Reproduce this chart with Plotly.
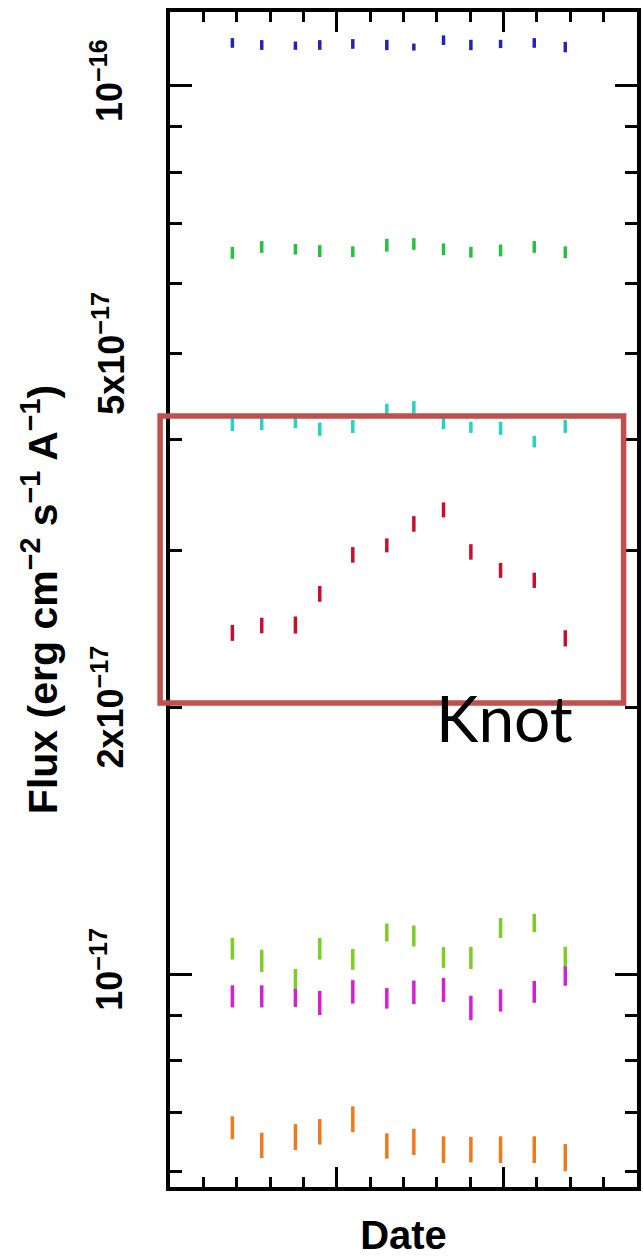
import math
import plotly.graph_objects as go

# Observation epochs (arbitrary date units along the x axis)
date = [1.87, 2.75, 3.76, 4.49, 5.48, 6.50, 7.31, 8.20, 9.02, 9.91, 10.92, 11.85]

# Fluxes (erg cm^-2 s^-1 A^-1) and 1-sigma uncertainties for each component
flux_blue = [1.118e-16, 1.112e-16, 1.110e-16, 1.112e-16, 1.115e-16, 1.112e-16,
             1.106e-16, 1.126e-16, 1.112e-16, 1.115e-16, 1.118e-16, 1.106e-16]
err_blue = [1.4e-18, 1.4e-18, 1.2e-18, 1.4e-18, 1.4e-18, 1.5e-18,
            1.0e-18, 1.4e-18, 1.5e-18, 1.2e-18, 1.4e-18, 1.5e-18]

flux_green = [6.49e-17, 6.59e-17, 6.55e-17, 6.52e-17, 6.51e-17, 6.62e-17,
              6.64e-17, 6.55e-17, 6.50e-17, 6.53e-17, 6.59e-17, 6.50e-17]
err_green = [1.0e-18, 1.0e-18, 0.9e-18, 1.0e-18, 0.9e-18, 1.1e-18,
             1.0e-18, 1.0e-18, 0.9e-18, 1.0e-18, 1.0e-18, 1.0e-18]

flux_cyan = [4.16e-17, 4.17e-17, 4.18e-17, 4.11e-17, 4.14e-17, 4.32e-17,
             4.35e-17, 4.17e-17, 4.13e-17, 4.12e-17, 3.98e-17, 4.14e-17]
err_cyan = [0.7e-18, 0.7e-18, 0.6e-18, 0.7e-18, 0.7e-18, 0.7e-18,
            0.7e-18, 0.6e-18, 0.6e-18, 0.7e-18, 0.6e-18, 0.7e-18]

flux_knot = [2.425e-17, 2.472e-17, 2.475e-17, 2.683e-17, 2.968e-17, 3.042e-17,
             3.216e-17, 3.335e-17, 2.991e-17, 2.851e-17, 2.779e-17, 2.391e-17]
err_knot = [0.50e-18, 0.50e-18, 0.55e-18, 0.55e-18, 0.60e-18, 0.55e-18,
            0.65e-18, 0.65e-18, 0.60e-18, 0.55e-18, 0.55e-18, 0.50e-18]

flux_lime = [1.070e-17, 1.037e-17, 0.987e-17, 1.070e-17, 1.041e-17, 1.116e-17,
             1.106e-17, 1.046e-17, 1.045e-17, 1.129e-17, 1.144e-17, 1.048e-17]
err_lime = [0.30e-18, 0.30e-18, 0.28e-18, 0.30e-18, 0.28e-18, 0.26e-18,
            0.30e-18, 0.28e-18, 0.30e-18, 0.29e-18, 0.27e-18, 0.27e-18]

flux_magenta = [0.946e-17, 0.946e-17, 0.942e-17, 0.930e-17, 0.957e-17, 0.941e-17,
                0.956e-17, 0.962e-17, 0.918e-17, 0.936e-17, 0.957e-17, 0.997e-17]
err_magenta = [0.27e-18, 0.27e-18, 0.22e-18, 0.29e-18, 0.29e-18, 0.25e-18,
               0.29e-18, 0.30e-18, 0.29e-18, 0.27e-18, 0.27e-18, 0.25e-18]

flux_orange = [6.73e-18, 6.43e-18, 6.57e-18, 6.66e-18, 6.88e-18, 6.42e-18,
               6.49e-18, 6.36e-18, 6.36e-18, 6.36e-18, 6.36e-18, 6.23e-18]
err_orange = [0.20e-18, 0.21e-18, 0.22e-18, 0.22e-18, 0.23e-18, 0.21e-18,
              0.22e-18, 0.22e-18, 0.21e-18, 0.22e-18, 0.22e-18, 0.22e-18]

# Y-axis ticks: decades carry long ticks; 2x and 5x get short ticks plus labels
y_decade_vals = [1e-17, 1e-16]
y_decade_text = ["10<sup>\u221217</sup>", "10<sup>\u221216</sup>"]
y_mid_vals = [2e-17, 5e-17]
y_mid_text = ["2x10<sup>\u221217</sup>", "5x10<sup>\u221217</sup>"]
y_minor_vals = [6e-18, 7e-18, 8e-18, 9e-18, 2e-17, 3e-17, 4e-17, 5e-17,
                6e-17, 7e-17, 8e-17, 9e-17]

series = [
    (flux_blue, err_blue, "#2323b5"),
    (flux_green, err_green, "#25c23c"),
    (flux_cyan, err_cyan, "#22d4c4"),
    (flux_knot, err_knot, "#c8102e"),
    (flux_lime, err_lime, "#7ccf22"),
    (flux_magenta, err_magenta, "#d41fd4"),
    (flux_orange, err_orange, "#ee7a18"),
]

fig = go.Figure()
for flux, err, color in series:
    fig.add_trace(go.Scatter(
        x=date, y=flux, mode="markers",
        marker=dict(size=2, color="rgba(0,0,0,0)"),
        error_y=dict(type="data", array=err, color=color, thickness=3.5, width=0),
        showlegend=False, hoverinfo="skip",
    ))

label_font = dict(family="Liberation Sans", size=36, color="black", weight="bold")
y_range = [-17.2388, -15.9168]

# labels for the 2x and 5x ticks, placed alongside the axis tick labels
mid_labels = [dict(
    text=txt, xref="paper", yref="y", x=-0.0785, y=math.log10(val),
    xanchor="right", yanchor="middle", textangle=-90, showarrow=False,
    font=label_font,
) for val, txt in zip(y_mid_vals, y_mid_text)]

fig.update_layout(
    width=643, height=1257,
    margin=dict(l=170, r=2, t=12, b=70),
    paper_bgcolor="white", plot_bgcolor="white",
    xaxis=dict(
        range=[0, 14], showgrid=False, zeroline=False,
        showline=True, linecolor="black", linewidth=3.5, mirror="allticks",
        ticks="inside", tickvals=[0, 5, 10], ticklen=20, tickwidth=2.5, tickcolor="black",
        showticklabels=False,
        minor=dict(dtick=1, tick0=0, ticks="inside", ticklen=10, tickwidth=3, tickcolor="black"),
        title=dict(text="Date", font=dict(family="Liberation Sans", size=40, color="black",
                                           weight="bold"), standoff=36),
    ),
    yaxis=dict(
        type="log", range=y_range, showgrid=False, zeroline=False,
        showline=True, linecolor="black", linewidth=3.5, mirror="allticks",
        ticks="inside", tickvals=y_decade_vals, ticktext=y_decade_text,
        ticklen=22, tickwidth=2.5, tickcolor="black",
        tickangle=-90, tickfont=label_font, ticklabelstandoff=30,
        minor=dict(tickvals=y_minor_vals, ticks="inside", ticklen=12, tickwidth=3,
                   tickcolor="black"),
        title=dict(text="Flux (erg cm<sup>\u22122</sup> s<sup>\u22121</sup> A<sup>\u22121</sup>)",
                   font=dict(family="Liberation Sans", size=41, color="black", weight="bold"),
                   standoff=14),
    ),
    shapes=[dict(
        type="rect", xref="paper", yref="paper",
        x0=-0.0212, x1=0.9713, y0=0.4119, y1=0.6562,
        line=dict(color="#c0504d", width=5.5), fillcolor="rgba(0,0,0,0)", layer="above",
    )],
    annotations=mid_labels + [dict(
        text="Knot", xref="paper", yref="paper", x=0.717, y=0.400,
        xanchor="center", yanchor="middle", showarrow=False,
        font=dict(family="Lato", size=64, color="black"),
    )],
)

fig.write_html("out.html")
